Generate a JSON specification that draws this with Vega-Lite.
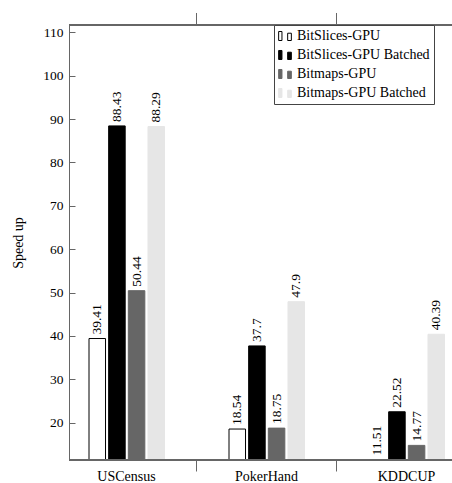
{
  "$schema": "https://vega.github.io/schema/vega-lite/v6.json",
  "width": 383,
  "height": 435,
  "autosize": {"type": "none"},
  "padding": {"left": 69, "top": 25, "right": 0, "bottom": 23},
  "config": {
    "font": "Liberation Serif",
    "view": {"stroke": null},
    "axis": {
      "labelFont": "Liberation Serif",
      "titleFont": "Liberation Serif",
      "labelColor": "#000000",
      "titleColor": "#000000",
      "domainColor": "#666666",
      "tickColor": "#666666",
      "grid": false
    },
    "legend": {
      "orient": "none",
      "legendX": 205,
      "legendY": 0,
      "labelFont": "Liberation Serif",
      "labelFontSize": 14,
      "labelLimit": 300,
      "labelColor": "#000000",
      "strokeColor": "#444444",
      "fillColor": "#ffffff",
      "padding": 4,
      "rowPadding": 5,
      "labelOffset": 5,
      "symbolType": "M-1,-0.71H-0.48V0.71H-1Z M0.42,-0.44H1V0.71H0.42Z",
      "symbolSize": 161,
      "symbolStrokeWidth": 1,
      "symbolOpacity": 1
    }
  },
  "data": {
    "values": [
      {"dataset": "USCensus", "series": "BitSlices-GPU", "value": 39.41},
      {"dataset": "USCensus", "series": "BitSlices-GPU Batched", "value": 88.43},
      {"dataset": "USCensus", "series": "Bitmaps-GPU", "value": 50.44},
      {"dataset": "USCensus", "series": "Bitmaps-GPU Batched", "value": 88.29},
      {"dataset": "PokerHand", "series": "BitSlices-GPU", "value": 18.54},
      {"dataset": "PokerHand", "series": "BitSlices-GPU Batched", "value": 37.7},
      {"dataset": "PokerHand", "series": "Bitmaps-GPU", "value": 18.75},
      {"dataset": "PokerHand", "series": "Bitmaps-GPU Batched", "value": 47.9},
      {"dataset": "KDDCUP", "series": "BitSlices-GPU", "value": 11.51},
      {"dataset": "KDDCUP", "series": "BitSlices-GPU Batched", "value": 22.52},
      {"dataset": "KDDCUP", "series": "Bitmaps-GPU", "value": 14.77},
      {"dataset": "KDDCUP", "series": "Bitmaps-GPU Batched", "value": 40.39}
    ]
  },
  "layer": [
    {
      "mark": {"type": "bar", "clip": true, "strokeWidth": 1},
      "encoding": {
        "x": {
          "field": "dataset", "type": "nominal",
          "sort": ["USCensus", "PokerHand", "KDDCUP"],
          "scale": {"range": [-12.5, 407.5], "paddingInner": 0, "paddingOuter": 0},
          "axis": {
            "orient": "bottom", "title": null, "labelAngle": 0, "domain": false,
            "ticks": false, "labelPadding": 9,
            "labelFontSize": 14, "labelBaseline": "top"
          }
        },
        "xOffset": {
          "field": "series", "type": "nominal",
          "sort": ["BitSlices-GPU", "BitSlices-GPU Batched", "Bitmaps-GPU", "Bitmaps-GPU Batched"],
          "scale": {"range": [32.5, 108.0], "paddingInner": 0.16, "paddingOuter": 0}
        },
        "y": {
          "field": "value", "type": "quantitative",
          "scale": {"domain": [11.4, 111.7], "nice": false, "zero": false},
          "axis": {
            "title": "Speed up", "values": [20, 30, 40, 50, 60, 70, 80, 90, 100, 110],
            "tickSize": -6, "labelPadding": 12, "labelFontSize": 13.5,
            "titleFontSize": 14, "titleFontWeight": "normal", "titleX": -51, "titleBaseline": "middle"
          }
        },
        "fill": {
          "field": "series", "type": "nominal",
          "scale": {
            "domain": ["BitSlices-GPU", "BitSlices-GPU Batched", "Bitmaps-GPU", "Bitmaps-GPU Batched"],
            "range": ["#ffffff", "#000000", "#666666", "#e6e6e6"]
          },
          "legend": {"title": null, "labelExpr": "datum.label + '\u2007\u2007\u2007\u2007\u2007\u2007'"}
        },
        "stroke": {
          "field": "series", "type": "nominal",
          "scale": {
            "domain": ["BitSlices-GPU", "BitSlices-GPU Batched", "Bitmaps-GPU", "Bitmaps-GPU Batched"],
            "range": ["#000000", "#000000", "#666666", "#e6e6e6"]
          },
          "legend": {"title": null, "labelExpr": "datum.label + '\u2007\u2007\u2007\u2007\u2007\u2007'"}
        }
      }
    },
    {
      "mark": {"type": "text", "angle": 270, "align": "left", "baseline": "middle", "dx": 4, "fontSize": 13.5, "color": "#000000", "font": "Liberation Serif"},
      "encoding": {
        "x": {
          "field": "dataset", "type": "nominal",
          "sort": ["USCensus", "PokerHand", "KDDCUP"],
          "axis": {
            "orient": "bottom", "title": null, "labelAngle": 0, "domain": false,
            "ticks": false, "labelPadding": 9,
            "labelFontSize": 14, "labelBaseline": "top"
          }
        },
        "xOffset": {
          "field": "series", "type": "nominal",
          "sort": ["BitSlices-GPU", "BitSlices-GPU Batched", "Bitmaps-GPU", "Bitmaps-GPU Batched"]
        },
        "y": {
          "field": "value", "type": "quantitative",
          "axis": {
            "title": "Speed up", "values": [20, 30, 40, 50, 60, 70, 80, 90, 100, 110],
            "tickSize": -6, "labelPadding": 12, "labelFontSize": 13.5,
            "titleFontSize": 14, "titleFontWeight": "normal", "titleX": -51, "titleBaseline": "middle"
          }
        },
        "text": {"field": "value", "type": "quantitative", "format": "~r"}
      }
    },
    {
      "transform": [{"filter": "datum.series == 'BitSlices-GPU' && datum.dataset != 'USCensus'"}],
      "mark": {"type": "rule", "color": "#666666", "strokeWidth": 1, "clip": false},
      "encoding": {
        "x": {
          "field": "dataset", "type": "nominal", "sort": ["USCensus", "PokerHand", "KDDCUP"], "bandPosition": 0,
          "axis": {
            "orient": "bottom", "title": null, "labelAngle": 0, "domain": false,
            "ticks": false, "labelPadding": 9,
            "labelFontSize": 14, "labelBaseline": "top"
          }
        },
        "y": {"datum": 11.4},
        "y2": {"datum": 8.75}
      }
    },
    {
      "transform": [{"filter": "datum.series == 'BitSlices-GPU' && datum.dataset != 'USCensus'"}],
      "mark": {"type": "rule", "color": "#666666", "strokeWidth": 1, "clip": false},
      "encoding": {
        "x": {
          "field": "dataset", "type": "nominal", "sort": ["USCensus", "PokerHand", "KDDCUP"], "bandPosition": 0,
          "axis": {
            "orient": "bottom", "title": null, "labelAngle": 0, "domain": false,
            "ticks": false, "labelPadding": 9,
            "labelFontSize": 14, "labelBaseline": "top"
          }
        },
        "y": {"datum": 111.7},
        "y2": {"datum": 114.47}
      }
    },
    {"mark": {"type": "rule", "color": "#666666", "strokeWidth": 1}, "encoding": {"y": {"datum": 11.4}}},
    {"mark": {"type": "rule", "color": "#666666", "strokeWidth": 1}, "encoding": {"y": {"datum": 111.7}}}
  ]
}
